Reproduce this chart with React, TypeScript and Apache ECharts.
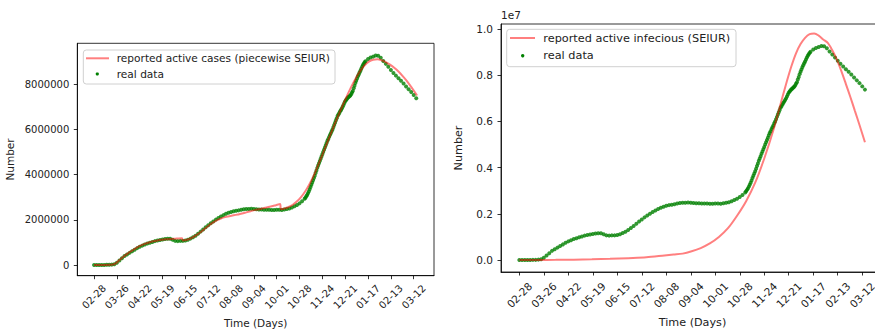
import React, { useEffect, useRef } from "react";
import * as echarts from "echarts";

// Tick labels (dates) every 27 days starting 02-28
const tickLabels = ["02-28","03-26","04-22","05-19","06-15","07-12","08-08","09-04","10-01","10-28","11-24","12-21","01-17","02-13","03-12"];
const tickDays = [0,27,54,81,108,135,162,189,216,243,270,297,324,351,378];

// Real data (millions of active cases): day index and value
const realDays = [
  0,3,6,9,12,15,18,21,24,27,30,33,36,39,42,45,48,51,54,57,60,63,66,69,72,75,78,81,84,87,90,93,96,99,
  102,105,108,111,114,117,120,123,126,129,132,135,138,141,144,147,150,153,156,159,162,165,168,171,174,177,
  180,183,186,189,192,195,198,201,204,207,210,213,216,219,222,225,228,231,234,237,240,243,246,
  249,250,251,252,253,254,255,256,257,258,259,260,261,262,263,264,265,266,267,268,269,270,
  271,272,273,274,275,276,277,278,279,280,281,282,283,284,285,286,287,288,289,290,
  291,292,293,294,295,296,297,298,299,300,301,302,303,304,305,306,307,308,309,310,
  311,312,313,314,315,316,317,318,319,320,321,
  324,327,330,333,336,339,342,345,348,351,354,357,360,363,366,369,372,375,378,381
];
const realValues = [
  0.00,0.00,0.00,0.00,0.00,0.01,0.01,0.02,0.04,0.10,0.20,0.30,0.40,0.47,0.54,0.61,0.68,0.75,0.81,0.86,0.91,0.95,0.99,1.02,1.06,1.09,1.11,1.13,1.15,1.16,1.16,1.12,1.07,1.06,
  1.07,1.07,1.09,1.12,1.17,1.23,1.30,1.39,1.48,1.57,1.67,1.76,1.85,1.93,2.01,2.08,2.15,2.21,2.27,2.31,2.35,2.38,2.40,2.42,2.45,2.47,
  2.48,2.48,2.49,2.48,2.47,2.46,2.46,2.45,2.45,2.45,2.44,2.44,2.45,2.45,2.44,2.46,2.48,2.50,2.55,2.60,2.66,2.73,2.82,
  2.93,2.98,3.04,3.10,3.18,3.26,3.35,3.45,3.55,3.65,3.75,3.85,3.95,4.07,4.18,4.30,4.40,4.50,4.60,4.70,4.80,4.90,
  5.00,5.10,5.20,5.30,5.40,5.50,5.58,5.67,5.75,5.83,5.92,6.00,6.10,6.20,6.30,6.40,6.50,6.60,6.66,6.73,
  6.80,6.86,6.93,7.00,7.08,7.17,7.25,7.30,7.35,7.40,7.43,7.47,7.50,7.56,7.63,7.70,7.82,7.93,8.05,8.15,
  8.25,8.35,8.43,8.52,8.60,8.68,8.77,8.85,8.91,8.97,9.02,
  9.12,9.18,9.22,9.27,9.26,9.17,9.03,8.90,8.77,8.63,8.50,8.38,8.26,8.15,8.03,7.90,7.78,7.66,7.52,7.38
];

// Piecewise SEIUR fit (left panel), millions
const leftFitDays = [0,20,25,30,35,40,45,50,55,60,65,70,75,80,85,90,95,100,104,105,110,115,120,125,130,135,140,145,150,155,160,165,170,175,180,185,190,195,200,205,210,215,220,221,225,230,235,240,245,250,255,260,265,270,275,280,285,290,295,300,305,310,315,320,325,330,335,340,345,350,355,360,365,370,375,382];
const leftFitValues = [0.00,0.01,0.06,0.22,0.38,0.52,0.64,0.76,0.86,0.94,1.00,1.05,1.09,1.12,1.14,1.15,1.16,1.18,1.19,1.09,1.12,1.19,1.30,1.43,1.58,1.73,1.87,1.98,2.06,2.12,2.16,2.20,2.24,2.28,2.33,2.38,2.43,2.47,2.51,2.56,2.60,2.65,2.70,2.47,2.50,2.57,2.67,2.82,3.02,3.28,3.60,3.98,4.42,4.88,5.35,5.82,6.28,6.72,7.15,7.56,7.95,8.30,8.60,8.84,9.00,9.08,9.10,9.06,8.98,8.87,8.73,8.56,8.36,8.14,7.88,7.50];

// SEIUR fit (right panel), millions
const rightFitDays = [0,20,40,60,80,100,120,140,160,170,180,190,200,210,220,230,240,250,260,270,280,290,295,300,305,310,315,320,325,330,335,340,345,350,355,360,365,370,375,381];
const rightFitValues = [0.00,0.005,0.01,0.02,0.035,0.055,0.085,0.12,0.20,0.24,0.28,0.38,0.52,0.72,1.00,1.38,1.92,2.55,3.35,4.40,5.62,7.05,7.75,8.40,8.95,9.35,9.62,9.78,9.81,9.72,9.55,9.40,9.08,8.68,8.18,7.62,7.05,6.45,5.85,5.10];

const leftYTicks = [0, 2, 4, 6, 8];
const rightYTicks = [0, 2, 4, 6, 8, 10];

const FONT = "DejaVu Sans";
const TXT = "#222";
const RED = "rgba(255,0,0,0.5)";
const GREEN = "#008000";

export default function App() {
  const ref = useRef<HTMLDivElement>(null);
  useEffect(() => {
    if (!ref.current) return;
    const chart = echarts.init(ref.current, null, { renderer: "svg" });
    const realData = realValues.map((v, i) => [realDays[i], v]);
    const leftFit = leftFitDays.map((d, i) => [d, leftFitValues[i]]);
    const rightFit = rightFitDays.map((d, i) => [d, rightFitValues[i]]);
    const xLabel = (v: number) => {
      const i = tickDays.indexOf(Math.round(v));
      return i >= 0 ? tickLabels[i] : "";
    };
    const makeX = (gridIndex: number, min: number, max: number, nameGap: number, margin: number, fs: number, nfs: number) => ({
      type: "value", gridIndex, min, max,
      axisLine: { show: true, onZero: false, lineStyle: { color: "#000", width: 0.8 } },
      axisTick: { show: true, length: 3.5, customValues: tickDays, lineStyle: { color: "#000", width: 0.8 } },
      axisLabel: { customValues: tickDays, formatter: xLabel, rotate: 45, align: "center", verticalAlign: "middle", margin, fontSize: fs, fontFamily: FONT, color: TXT },
      splitLine: { show: false },
      name: "Time (Days)", nameLocation: "middle", nameGap,
      nameTextStyle: { fontSize: nfs, fontFamily: FONT, color: TXT },
    });
    const option: any = {
      animation: false,
      backgroundColor: "#fff",
      grid: [
        { left: 77.3, top: 43.3, width: 356.7, height: 232.4, show: true, borderColor: "#000", borderWidth: 0.8, containLabel: false, outerBoundsMode: "none" },
        { left: 501, top: 24, width: 383, height: 248, show: true, borderColor: "#000", borderWidth: 0.8, containLabel: false, outerBoundsMode: "none" },
      ],
      xAxis: [makeX(0, -19.8, 402, 40, 21, 10, 10.5), makeX(1, -20.2, 402, 43, 23, 10.5, 11.2)],
      yAxis: [
        {
          type: "value", gridIndex: 0, min: -0.47, max: 9.81,
          axisLine: { show: true, onZero: false, lineStyle: { color: "#000", width: 0.8 } },
          axisTick: { show: true, length: 3.5, customValues: leftYTicks, lineStyle: { color: "#000", width: 0.8 } },
          axisLabel: { customValues: leftYTicks, formatter: (v: number) => String(Math.round(v * 1e6)), margin: 8, fontSize: 10, fontFamily: FONT, color: TXT },
          splitLine: { show: false },
          name: "Number", nameLocation: "middle", nameGap: 62,
          nameTextStyle: { fontSize: 10.5, fontFamily: FONT, color: TXT },
        },
        {
          type: "value", gridIndex: 1, min: -0.515, max: 10.22,
          axisLine: { show: true, onZero: false, lineStyle: { color: "#000", width: 0.8 } },
          axisTick: { show: true, length: 3.5, customValues: rightYTicks, lineStyle: { color: "#000", width: 0.8 } },
          axisLabel: { customValues: rightYTicks, formatter: (v: number) => (v / 10).toFixed(1), margin: 8, fontSize: 10.5, fontFamily: FONT, color: TXT },
          splitLine: { show: false },
          name: "Number", nameLocation: "middle", nameGap: 37,
          nameTextStyle: { fontSize: 11.2, fontFamily: FONT, color: TXT },
        },
      ],
      series: [
        { type: "scatter", xAxisIndex: 0, yAxisIndex: 0, data: realData, symbol: "circle", symbolSize: 4, itemStyle: { color: GREEN }, z: 2 },
        { type: "line", xAxisIndex: 0, yAxisIndex: 0, data: leftFit, showSymbol: false, smooth: 0.3, lineStyle: { color: RED, width: 2 }, z: 3 },
        { type: "scatter", xAxisIndex: 1, yAxisIndex: 1, data: realData, symbol: "circle", symbolSize: 4, itemStyle: { color: GREEN }, z: 2 },
        { type: "line", xAxisIndex: 1, yAxisIndex: 1, data: rightFit, showSymbol: false, smooth: 0.3, lineStyle: { color: RED, width: 2 }, z: 3 },
      ],
      graphic: [
        // left legend
        { type: "rect", shape: { x: 83.3, y: 50, width: 251.7, height: 34, r: 3 }, style: { fill: "rgba(255,255,255,0.8)", stroke: "#d0d0d0", lineWidth: 1 }, z: 10 },
        { type: "line", shape: { x1: 86, y1: 58.3, x2: 109, y2: 58.3 }, style: { stroke: RED, lineWidth: 2 }, z: 11 },
        { type: "text", x: 116.7, y: 58.3, style: { text: "reported active cases (piecewise SEIUR)", font: `10.6px "${FONT}"`, fill: TXT, verticalAlign: "middle" }, z: 11 },
        { type: "circle", shape: { cx: 97.3, cy: 74, r: 1.6 }, style: { fill: GREEN }, z: 11 },
        { type: "text", x: 116.7, y: 74, style: { text: "real data", font: `10.6px "${FONT}"`, fill: TXT, verticalAlign: "middle" }, z: 11 },
        // right legend
        { type: "rect", shape: { x: 506.7, y: 29.3, width: 229.3, height: 37.4, r: 3 }, style: { fill: "rgba(255,255,255,0.8)", stroke: "#d0d0d0", lineWidth: 1 }, z: 10 },
        { type: "line", shape: { x1: 510, y1: 38, x2: 535, y2: 38 }, style: { stroke: RED, lineWidth: 2 }, z: 11 },
        { type: "text", x: 543.3, y: 38, style: { text: "reported active infecious (SEIUR)", font: `11.3px "${FONT}"`, fill: TXT, verticalAlign: "middle" }, z: 11 },
        { type: "circle", shape: { cx: 522.7, cy: 55.7, r: 1.7 }, style: { fill: GREEN }, z: 11 },
        { type: "text", x: 543.3, y: 55.7, style: { text: "real data", font: `11.3px "${FONT}"`, fill: TXT, verticalAlign: "middle" }, z: 11 },
        // offset text
        { type: "text", x: 501, y: 15, style: { text: "1e7", font: `10.5px "${FONT}"`, fill: TXT, verticalAlign: "middle" }, z: 11 },
      ],
    };
    chart.setOption(option);
    return () => chart.dispose();
  }, []);
  return <div ref={ref} style={{ position: "fixed", left: 0, top: 0, width: 875, height: 329, background: "#fff" }} />;
}
